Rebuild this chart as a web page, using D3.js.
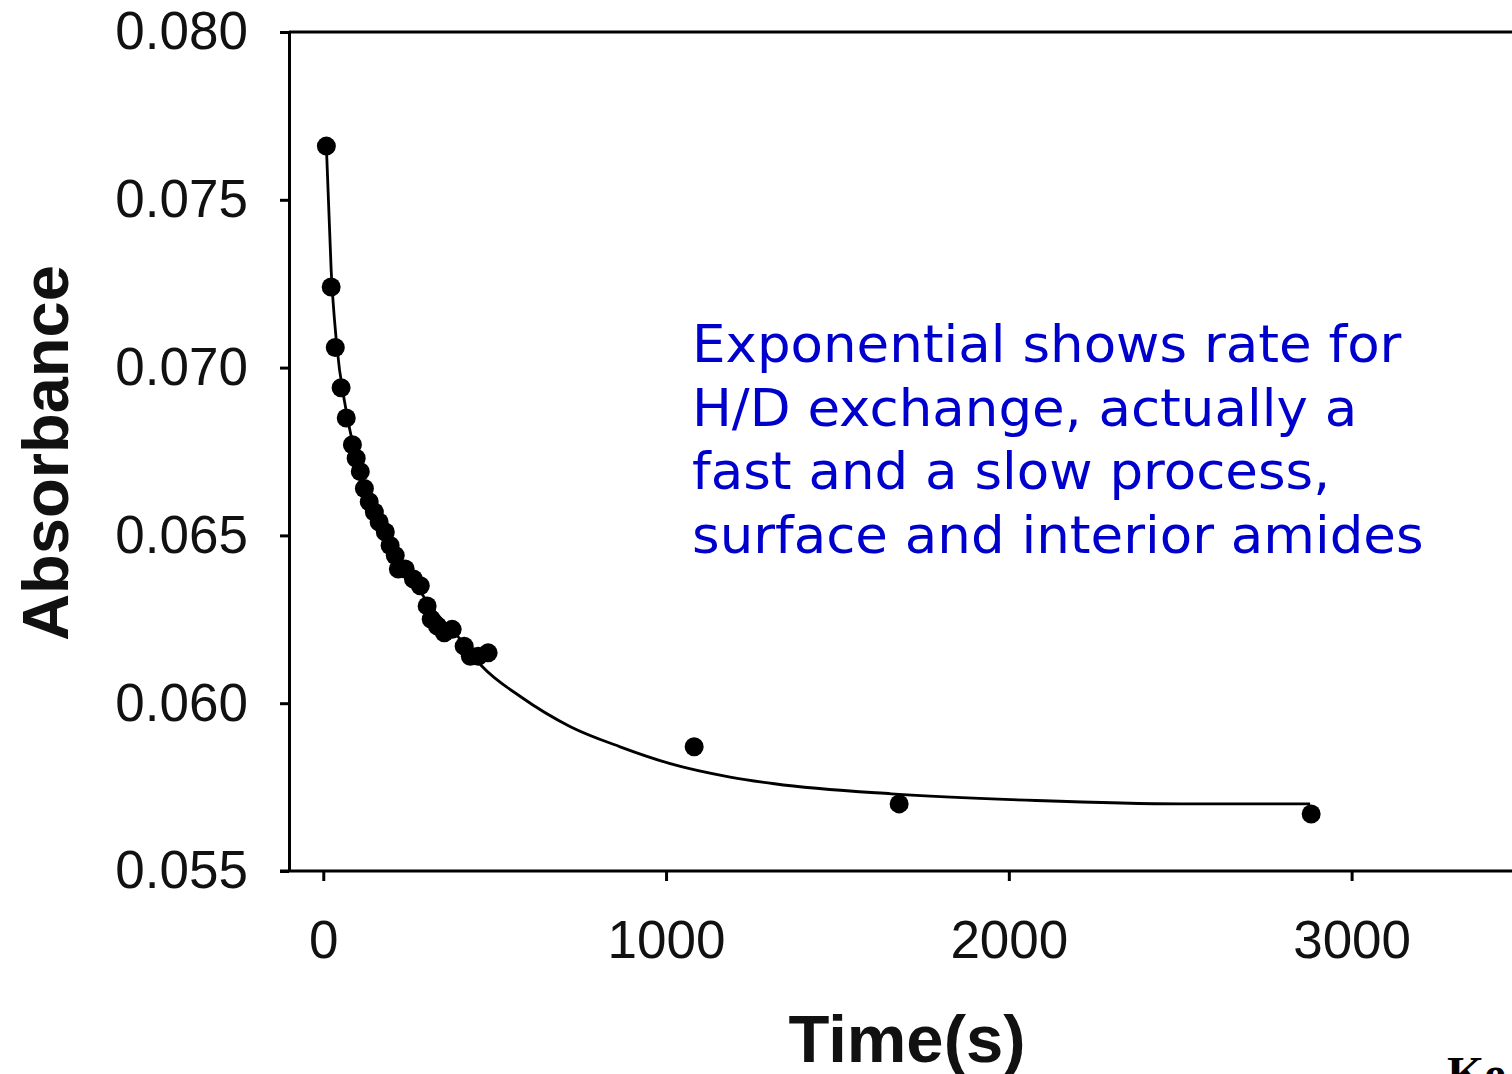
<!DOCTYPE html>
<html>
<head>
<meta charset="utf-8">
<script src="https://cdn.jsdelivr.net/npm/d3@7"></script>
<style>
  html, body { margin: 0; padding: 0; background: #fff; overflow: hidden; }
  svg { display: block; }
</style>
</head>
<body>
<figure id="chart" style="margin:0"></figure>
<script>
// measured points (time in s, absorbance)
const timeValues = [9, 23, 35, 52, 67, 85, 96, 108, 120, 134, 149, 163, 181, 195, 210, 219, 239, 263, 283,
  303, 315, 333, 353, 376, 411, 429, 452, 481, 1082, 1680, 2882];
const absorbanceValues = [0.0766, 0.0724, 0.0706, 0.0694, 0.0685, 0.0677, 0.0673, 0.0669, 0.0664, 0.0660,
  0.0657, 0.0654, 0.0651, 0.0647, 0.0644, 0.0640, 0.0640, 0.0637, 0.0635, 0.0629, 0.0625, 0.0623, 0.0621,
  0.0622, 0.0617, 0.0614, 0.0614, 0.0615, 0.0587, 0.0570, 0.0567];

// fitted exponential curve
const fitTime = [9, 23, 38, 67, 108, 166, 225, 312, 400, 463, 575, 721, 866, 1012, 1187, 1316, 1657, 2080, 2506, 2879];
const fitAbsorbance = [0.0766, 0.0729, 0.0708, 0.0687, 0.0669, 0.0654, 0.0643, 0.0629, 0.0619, 0.0611,
  0.0602, 0.0593, 0.0587, 0.0582, 0.0578, 0.0576, 0.0573, 0.0571, 0.0570, 0.0570];

const xTicks = [0, 1000, 2000, 3000];
const yTicks = [0.055, 0.060, 0.065, 0.070, 0.075, 0.080];

const noteLines = ["Exponential shows rate for", "H/D exchange, actually a",
  "fast and a slow process,", "surface and interior amides"];

const width = 1512, height = 1074;

const svg = d3.select("figure#chart")
  .append("svg")
  .attr("width", width)
  .attr("height", height);

const x = d3.scaleLinear().domain([-100, 3500]).range([289, 1523]);
const y = d3.scaleLinear().domain([0.055, 0.080]).range([871, 32]);

// frame (top + right)
svg.append("path")
  .attr("d", `M${x(-100)},${y(0.080)}H${x(3500)}V${y(0.055)}`)
  .attr("fill", "none")
  .attr("stroke", "#000")
  .attr("stroke-width", 3);

const xAxis = svg.append("g")
  .attr("transform", `translate(0,${y(0.055)})`)
  .call(d3.axisBottom(x).tickValues(xTicks).tickSize(10).tickPadding(39).tickSizeOuter(0).tickFormat(d3.format("d")));

const yAxis = svg.append("g")
  .attr("transform", `translate(${x(-100)},0)`)
  .call(d3.axisLeft(y).tickValues(yTicks).tickSize(9).tickPadding(32).tickSizeOuter(0).tickFormat(d3.format(".3f")));

[xAxis, yAxis].forEach(g => {
  g.select(".domain").attr("stroke-width", 3);
  g.selectAll(".tick line").attr("stroke-width", 3);
  g.selectAll(".tick text")
    .attr("font-family", "'Liberation Sans', Arial, sans-serif")
    .attr("font-size", 53)
    .attr("fill", "#111");
});
// extend bottom axis to the left like the original
xAxis.select(".domain").attr("d", `M${x(-100) - 9},0H${x(3500)}`);

// fit curve
const line = d3.line()
  .x((d, i) => x(fitTime[i]))
  .y((d, i) => y(fitAbsorbance[i]))
  .curve(d3.curveMonotoneX);

svg.append("path")
  .datum(fitTime)
  .attr("d", line)
  .attr("fill", "none")
  .attr("stroke", "#000")
  .attr("stroke-width", 2.8);

// data points
svg.append("g")
  .selectAll("circle")
  .data(timeValues)
  .enter()
  .append("circle")
  .attr("cx", (d) => x(d))
  .attr("cy", (d, i) => y(absorbanceValues[i]))
  .attr("r", 9.5)
  .attr("fill", "#000");

// axis titles
svg.append("text")
  .attr("text-anchor", "middle")
  .attr("x", 907)
  .attr("y", 1062)
  .attr("font-family", "'Liberation Sans', Arial, sans-serif")
  .attr("font-weight", "bold")
  .attr("font-size", 67)
  .attr("fill", "#111")
  .text("Time(s)");

svg.append("text")
  .attr("text-anchor", "middle")
  .attr("transform", "translate(68,453) rotate(-90)")
  .attr("font-family", "'Liberation Sans', Arial, sans-serif")
  .attr("font-weight", "bold")
  .attr("font-size", 65)
  .attr("fill", "#111")
  .text("Absorbance");

// annotation
svg.append("text")
  .attr("transform", "translate(692,0) scale(1.04,1)")
  .attr("font-family", "'DejaVu Sans', Verdana, sans-serif")
  .attr("font-size", 51)
  .attr("fill", "#0000cc")
  .selectAll("tspan")
  .data(noteLines)
  .enter()
  .append("tspan")
  .attr("x", 0)
  .attr("y", (d, i) => 362 + i * 63.7)
  .text(d => d);

// cut-off credit at bottom right
svg.append("text")
  .attr("x", 1447)
  .attr("y", 1090)
  .attr("font-family", "'Liberation Serif', 'Times New Roman', serif")
  .attr("font-weight", "bold")
  .attr("font-size", 48)
  .attr("fill", "#000")
  .text("Ke");
</script>
</body>
</html>
